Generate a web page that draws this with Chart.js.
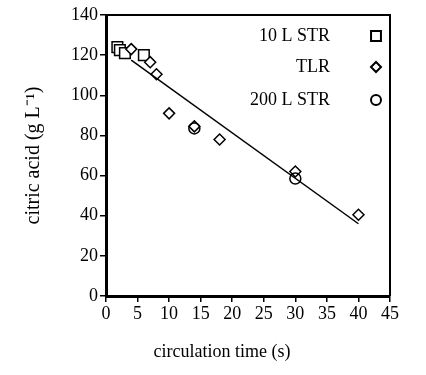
<!DOCTYPE html>
<html>
<head>
<meta charset="utf-8">
<script src="https://cdn.jsdelivr.net/npm/chart.js@4.4.1/dist/chart.umd.min.js"></script>
<style>
  html, body { margin: 0; padding: 0; background: #fff; }
  #wrap { width: 426px; height: 375px; }
</style>
</head>
<body>
<div id="wrap"><canvas id="citricChart" width="426" height="375"></canvas></div>
<script type="text/javascript">
// values
var str10X = [1.8, 2.2, 3, 6];
var str10Y = [124, 122.5, 121, 120];
var tlrX = [4, 7, 8, 10, 14, 18, 30, 40];
var tlrY = [123, 116.5, 110.5, 91, 84.5, 78, 62, 40.5];
var str200X = [14, 30];
var str200Y = [83.5, 58.5];
var fitX = [4, 40];
var fitY = [117.5, 36];
var xTicks = [0, 5, 10, 15, 20, 25, 30, 35, 40, 45];
var yTicks = [0, 20, 40, 60, 80, 100, 120, 140];

function pts(xs, ys) {
  return xs.map(function (x, i) { return { x: x, y: ys[i] }; });
}

var serif = "'Liberation Serif', 'Times New Roman', serif";

var legendItems = [
  { label: "10 L STR", style: "rect", radius: 7, y: 36 },
  { label: "TLR", style: "rectRot", radius: 5, y: 67 },
  { label: "200 L STR", style: "circle", radius: 5, y: 100 }
];

var framePlugin = {
  id: "frame",
  afterDraw: function (chart) {
    var ctx = chart.ctx, a = chart.chartArea;
    ctx.save();
    ctx.strokeStyle = "#000";
    ctx.lineWidth = 2;
    ctx.beginPath();
    ctx.moveTo(a.left, a.top);
    ctx.lineTo(a.right, a.top);
    ctx.lineTo(a.right, a.bottom);
    ctx.stroke();
    // x axis title sits a little left of the plot centre in the original
    ctx.font = "18px " + serif;
    ctx.fillStyle = "#000";
    ctx.textAlign = "center";
    ctx.textBaseline = "middle";
    ctx.fillText("circulation time (s)", 222, 352);
    // legend in the upper right
    ctx.textAlign = "right";
    legendItems.forEach(function (it) {
      ctx.fillStyle = "#000";
      ctx.fillText(it.label, 330, it.y);
      ctx.fillStyle = "#fff";
      ctx.lineWidth = 2;
      Chart.helpers.drawPoint(ctx, { pointStyle: it.style, radius: it.radius, borderWidth: 2 }, 376, it.y);
    });
    ctx.restore();
  }
};

new Chart("citricChart", {
  type: "scatter",
  data: {
    datasets: [
      {
        label: "fit",
        type: "line",
        data: pts(fitX, fitY),
        borderColor: "#000",
        borderWidth: 1.5,
        pointRadius: 0,
        fill: false
      },
      {
        label: "200 L STR",
        data: pts(str200X, str200Y),
        pointStyle: "circle",
        pointRadius: 5.5,
        borderColor: "#000",
        backgroundColor: "rgba(0,0,0,0)",
        borderWidth: 1.5
      },
      {
        label: "TLR",
        data: pts(tlrX, tlrY),
        pointStyle: "rectRot",
        pointRadius: 5.5,
        borderColor: "#000",
        backgroundColor: "#fff",
        borderWidth: 1.5
      },
      {
        label: "10 L STR",
        data: pts(str10X, str10Y),
        pointStyle: "rect",
        pointRadius: 7.5,
        borderColor: "#000",
        backgroundColor: "#fff",
        borderWidth: 1.5
      }
    ]
  },
  options: {
    responsive: false,
    animation: false,
    layout: { padding: { left: 0, top: 15, right: 36, bottom: 0 } },
    plugins: {
      legend: { display: false },
      tooltip: { enabled: false }
    },
    scales: {
      x: {
        type: "linear",
        min: 0,
        max: 45,
        afterBuildTicks: function (s) { s.ticks = xTicks.map(function (v) { return { value: v }; }); },
        afterFit: function (s) { s.height = 79; },
        grid: { drawOnChartArea: false, drawTicks: true, tickLength: 6, color: "#000", lineWidth: 1.5 },
        border: { display: true, color: "#000", width: 3 },
        ticks: { color: "#000", font: { family: serif, size: 18 }, padding: 1, maxRotation: 0 },
        title: { display: false }
      },
      y: {
        type: "linear",
        min: 0,
        max: 140,
        afterBuildTicks: function (s) { s.ticks = yTicks.map(function (v) { return { value: v }; }); },
        afterFit: function (s) { s.width = 106; },
        grid: { drawOnChartArea: false, drawTicks: true, tickLength: 6, color: "#000", lineWidth: 1.5 },
        border: { display: true, color: "#000", width: 3 },
        ticks: { color: "#000", font: { family: serif, size: 18 }, padding: 2 },
        title: { display: true, text: "citric acid (g L\u207B\u00B9)", color: "#000", font: { family: serif, size: 20 }, padding: { top: 22, bottom: 0 } }
      }
    }
  },
  plugins: [framePlugin]
});
</script>
</body>
</html>
